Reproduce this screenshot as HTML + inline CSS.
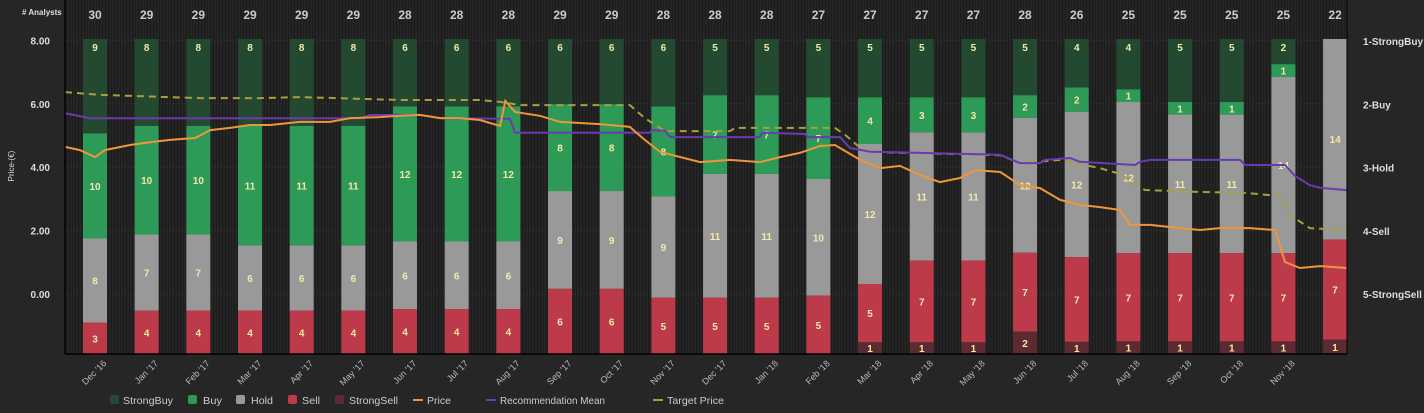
<!DOCTYPE html>
<html><head><meta charset="utf-8">
<style>
html,body{margin:0;padding:0;background:#262626;}
svg{display:block;font-family:"Liberation Sans",sans-serif;}
</style></head>
<body>
<svg id="chart" width="1424" height="413" viewBox="0 0 1424 413" xmlns="http://www.w3.org/2000/svg">
<defs>
<pattern id="stripes" width="3" height="10" patternUnits="userSpaceOnUse">
<rect width="3" height="10" fill="#242424"/><rect width="1" height="10" fill="#1c1c1c"/>
</pattern>
</defs>
<rect x="0" y="0" width="1424" height="413" fill="#262626"/>
<rect x="65" y="0" width="1282" height="355" fill="url(#stripes)"/>
<g id="grid"></g><g id="bars"></g><g id="lines"></g><g id="axes"></g><g id="legend"></g>
</svg>
<script>
const months = ["Dec '16","Jan '17","Feb '17","Mar '17","Apr '17","May '17","Jun '17","Jul '17","Aug '17","Sep '17","Oct '17","Nov '17","Dec '17","Jan '18","Feb '18","Mar '18","Apr '18","May '18","Jun '18","Jul '18","Aug '18","Sep '18","Oct '18","Nov '18",""];
const strongBuy = [9,8,8,8,8,8,6,6,6,6,6,6,5,5,5,5,5,5,5,4,4,5,5,2,0];
const buy       = [10,10,10,11,11,11,12,12,12,8,8,8,7,7,7,4,3,3,2,2,1,1,1,1,0];
const hold      = [8,7,7,6,6,6,6,6,6,9,9,9,11,11,10,12,11,11,12,12,12,11,11,14,14];
const sell      = [3,4,4,4,4,4,4,4,4,6,6,5,5,5,5,5,7,7,7,7,7,7,7,7,7];
const strongSell= [0,0,0,0,0,0,0,0,0,0,0,0,0,0,0,1,1,1,2,1,1,1,1,1,1];
const priceTicks = [0,2,4,6,8];
const recLabels = ["1-StrongBuy","2-Buy","3-Hold","4-Sell","5-StrongSell"];
const priceT = [-0.58,-0.29,0,0.19,0.68,1.06,1.45,1.94,2.23,2.61,3.0,3.39,3.97,4.55,4.94,5.52,5.9,6.29,6.68,7.06,7.45,7.84,7.94,8.13,8.61,9.0,9.77,10.35,10.64,10.94,11.71,12.29,12.87,13.26,13.64,14.03,14.32,14.81,15.19,15.58,15.97,16.35,16.74,17.03,17.52,17.9,18.29,18.68,19.06,19.45,19.84,20.03,20.42,21.0,21.39,21.77,22.35,22.84,23.03,23.32,23.71,24.23];
const priceV = [4.64,4.54,4.32,4.54,4.70,4.79,4.86,4.92,5.17,5.24,5.33,5.33,5.43,5.43,5.55,5.58,5.62,5.65,5.55,5.55,5.49,5.30,6.09,5.74,5.62,5.43,5.36,5.27,4.86,4.48,4.16,4.23,4.16,4.32,4.45,4.67,4.70,4.23,3.97,4.04,3.75,3.53,3.66,3.91,3.85,3.44,3.34,2.97,2.81,2.74,2.65,2.18,2.18,2.08,2.02,2.08,2.08,2.02,1.01,0.82,0.88,0.82];
const recT = [-0.58,-0.10,5.13,5.32,6.29,6.68,8.03,8.13,10.74,10.78,11.03,11.13,12.87,12.91,13.74,13.80,14.42,14.61,15.0,17.52,17.9,18.29,18.39,18.87,19.06,20.13,20.23,20.42,22.16,22.26,23.03,23.22,23.51,23.71,24.23];
const recV = [2.14,2.22,2.22,2.17,2.17,2.22,2.23,2.45,2.45,2.41,2.42,2.52,2.52,2.45,2.47,2.52,2.52,2.69,2.75,2.80,2.93,2.93,2.88,2.85,2.91,2.96,2.91,2.88,2.88,2.96,2.96,3.13,3.28,3.32,3.36];
const targetT = [-0.58,0.10,2.03,3.19,3.97,5.90,7.45,7.84,8.23,10.35,10.64,11.03,12.29,12.39,14.32,14.52,14.81,15.0,17.52,17.9,18.68,19.45,19.84,20.32,21.39,22.26,22.94,23.13,23.51,24.23];
const targetV = [6.37,6.28,6.18,6.18,6.21,6.12,6.12,6.06,5.96,5.96,5.55,5.14,5.14,5.24,5.24,5.02,4.61,4.48,4.38,4.13,4.23,3.97,3.79,3.28,3.22,3.19,3.09,2.49,2.08,2.02];

const NS="http://www.w3.org/2000/svg";
const X0=65,X1=1347,YT=39,YB=354;
const xM = m => 95 + m*51.67;
const yP = p => 294 - p*31.7;
const yR = r => 41 + (r-1)*63.25;
function mk(tag,attrs,parent,text){const e=document.createElementNS(NS,tag);for(const k in attrs)e.setAttribute(k,attrs[k]);if(text!==undefined)e.textContent=text;parent.appendChild(e);return e;}
const grid=document.getElementById('grid'),bars=document.getElementById('bars'),lines=document.getElementById('lines'),axes=document.getElementById('axes'),legend=document.getElementById('legend');

priceTicks.forEach((p,i)=>{
  const g=mk('line',{x1:X0,x2:X1,y1:yP(p),y2:yP(p),stroke:'#3a3a3a','stroke-dasharray':'1,2'},grid);
  
  
  const t=mk('text',{x:50,y:yP(p)+4,fill:'#ddd','font-size':'10','font-weight':'bold','text-anchor':'end'},axes,p.toFixed(2));
  
  
});
recLabels.forEach((l,i)=>{
  const t=mk('text',{x:1363,y:yR(i+1)+4,fill:'#ddd','font-size':'10','font-weight':'bold'},axes,l);
  
  
});
const yt=mk('text',{x:14,y:166,fill:'#ddd','font-size':'8','text-anchor':'middle',transform:'rotate(-90 14 166)'},axes,'Price-(€)');


const at=mk('text',{x:22,y:15,fill:'#ddd','font-size':'8','font-weight':'bold'},axes,'# Analysts');



const colors=['#234a31','#2e9a58','#999999','#bd3a4a','#5e2a31'];
const series=[strongBuy,buy,hold,sell,strongSell];
const sNames=['strongbuy','buy','hold','sell','strongsell'];
months.forEach((m,i)=>{
  const total=series.reduce((a,s)=>a+s[i],0);
  const cx=xM(i), w=24;
  let y=YT;
  series.forEach((s,k)=>{
    const v=s[i]; if(!v) return;
    const h=v/total*(YB-YT);
    const r=mk('rect',{x:cx-w/2,y:y,width:w,height:h,fill:colors[k]},bars);
    
    
    const ly = (k===0)? y+12 : y+h/2+4;
    const t=mk('text',{x:cx,y:ly,fill:'#f3e9a6','font-size':'10','font-weight':'bold','text-anchor':'middle'},bars,String(v));
    
    
    y+=h;
  });
  const c=mk('text',{x:cx,y:19,fill:'#ccc','font-size':'12','font-weight':'bold','text-anchor':'middle'},axes,String(total));
  
  
  if(m){
    const tx=cx+12, ty=364;
    const t=mk('text',{x:tx,y:ty,fill:'#bbb','font-size':'9','text-anchor':'end',transform:`rotate(-45 ${tx} ${ty})`},axes,m);
    
    
  }
});
function path(ts,vs,yf){return ts.map((t,i)=>(i?'L':'M')+xM(t).toFixed(1)+','+yf(vs[i]).toFixed(1)).join('');}
const tp=mk('path',{d:path(targetT,targetV,yP),fill:'none',stroke:'#a8a03a','stroke-width':'2','stroke-dasharray':'7,5'},lines);


const rm=mk('path',{d:path(recT,recV,yR),fill:'none',stroke:'#6a3bb0','stroke-width':'2'},lines);


const pl=mk('path',{d:path(priceT,priceV,yP),fill:'none',stroke:'#f0963a','stroke-width':'2'},lines);



const ax1=mk('line',{x1:X0,x2:X0,y1:0,y2:YB,stroke:'#000','stroke-width':'1.5'},axes);


const ax2=mk('line',{x1:X0,x2:X1,y1:YB,y2:YB,stroke:'#000','stroke-width':'1.5'},axes);


const ax3=mk('line',{x1:X1,x2:X1,y1:0,y2:YB,stroke:'#000','stroke-width':'1'},axes);



// [label, type, color, markerX, textX, textWidth]
const leg=[['StrongBuy','box',colors[0],110,123,50],['Buy','box',colors[1],188,203,19],['Hold','box',colors[2],236,251,22],['Sell','box',colors[3],288,302,18],['StrongSell','box',colors[4],335,349,49],['Price','line','#f0963a',413,427,24],['Recommendation Mean','line','#6a3bb0',486,500,105],['Target Price','line','#a8a03a',653,667,57]];
leg.forEach(l=>{
  const g=mk('g',{},legend);
  
  
  if(l[1]==='box') mk('rect',{x:l[3],y:395,width:9,height:9,rx:2,fill:l[2]},g);
  else mk('rect',{x:l[3],y:399,width:10,height:2,fill:l[2]},g);
  mk('text',{x:l[4],y:404,fill:'#ccc','font-size':'10.5','textLength':l[5],'lengthAdjust':'spacingAndGlyphs'},g,l[0]);
});
</script>
</body></html>
